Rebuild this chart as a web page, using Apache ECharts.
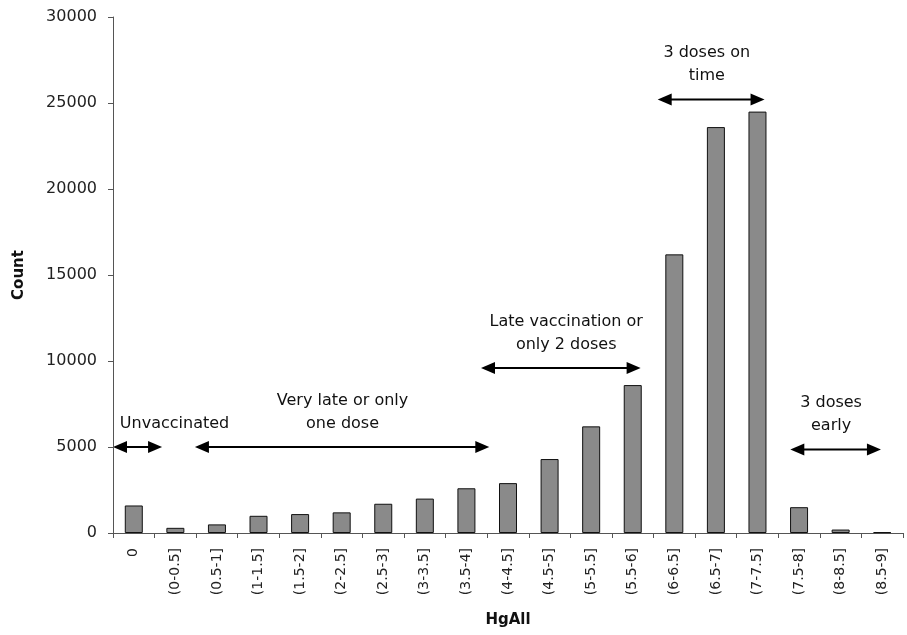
<!DOCTYPE html>
<html><head><meta charset="utf-8">
<script src="https://cdn.jsdelivr.net/npm/echarts@6/dist/echarts.min.js"></script>
<style>html,body{margin:0;padding:0;background:#fff}#c{width:907px;height:635px}</style>
</head><body><div id="c"></div>
<script>
const categories = ['0','(0-0.5]','(0.5-1]','(1-1.5]','(1.5-2]','(2-2.5]','(2.5-3]','(3-3.5]','(3.5-4]','(4-4.5]','(4.5-5]','(5-5.5]','(5.5-6]','(6-6.5]','(6.5-7]','(7-7.5]','(7.5-8]','(8-8.5]','(8.5-9]'];
const counts = [1600, 300, 500, 1000, 1100, 1200, 1700, 2000, 2600, 2900, 4300, 6200, 8600, 16200, 23600, 24500, 1500, 200, 50];
const yTicks = [0, 5000, 10000, 15000, 20000, 25000, 30000];
// annotations: label lines, arrow start index, arrow end index, arrow value, text center index
const annotLabels = [['Unvaccinated'], ['Very late or only', 'one dose'], ['Late vaccination or', 'only 2 doses'], ['3 doses on', 'time'], ['3 doses', 'early']];
const annotFrom = [-0.5, 1.47, 8.35, 12.6, 15.79];
const annotTo = [0.68, 8.55, 12.19, 15.17, 17.97];
const annotValue = [5000, 5000, 9600, 25200, 4850];
const annotTextX = [0.98, 5.02, 10.4, 13.78, 16.77];

const chart = echarts.init(document.getElementById('c'));
const font = '"DejaVu Sans", Arial, sans-serif';
chart.setOption({
  animation: false,
  grid: {left: 113, right: 4, top: 17, bottom: 102},
  xAxis: {
    type: 'category', data: categories,
    name: 'HgAll', nameLocation: 'middle', nameGap: 80,
    nameTextStyle: {fontFamily: font, fontWeight: 'bold', fontSize: 15, color: '#111'},
    axisLine: {lineStyle: {color: '#555', width: 1}},
    axisTick: {show: true, length: 5, lineStyle: {color: '#555'}},
    axisLabel: {rotate: 90, fontFamily: font, fontSize: 14, color: '#222', margin: 15, interval: 0}
  },
  yAxis: {
    type: 'value', min: 0, max: 30000, interval: 5000,
    name: 'Count', nameLocation: 'middle', nameGap: 86, nameRotate: 90,
    nameTextStyle: {fontFamily: font, fontWeight: 'bold', fontSize: 15, color: '#111'},
    splitLine: {show: false},
    axisLine: {show: true, lineStyle: {color: '#555', width: 1}},
    axisTick: {show: true, length: 5, lineStyle: {color: '#555'}},
    axisLabel: {fontFamily: font, fontSize: 16, color: '#222', margin: 16,
      formatter: v => yTicks.includes(v) ? String(v) : ''}
  },
  series: [{
    type: 'bar', data: counts, barWidth: 18,
    itemStyle: {color: '#8a8a8a', borderColor: '#111', borderWidth: 1}
  }]
});

const c0 = chart.convertToPixel({gridIndex: 0}, [0, 0]);
const c1 = chart.convertToPixel({gridIndex: 0}, [1, 0]);
const step = c1[0] - c0[0];
const xOf = idx => c0[0] + idx * step;
const g = [];
for (let i = 0; i < annotLabels.length; i++) {
  const y = chart.convertToPixel({yAxisIndex: 0}, annotValue[i]);
  const x1 = xOf(annotFrom[i]), x2 = xOf(annotTo[i]), xt = xOf(annotTextX[i]);
  const ah = 14, aw = 6;
  g.push({type: 'line', shape: {x1: x1 + ah - 2, y1: y, x2: x2 - ah + 2, y2: y}, style: {stroke: '#000', lineWidth: 2}});
  g.push({type: 'polygon', shape: {points: [[x1, y], [x1 + ah, y - aw], [x1 + ah, y + aw]]}, style: {fill: '#000'}});
  g.push({type: 'polygon', shape: {points: [[x2, y], [x2 - ah, y - aw], [x2 - ah, y + aw]]}, style: {fill: '#000'}});
  g.push({type: 'text', x: xt, y: y - 12,
    style: {text: annotLabels[i].join('\n'), font: '16px ' + font, fill: '#111', align: 'center', verticalAlign: 'bottom', lineHeight: 23}});
}
chart.setOption({graphic: g});
</script></body></html>
